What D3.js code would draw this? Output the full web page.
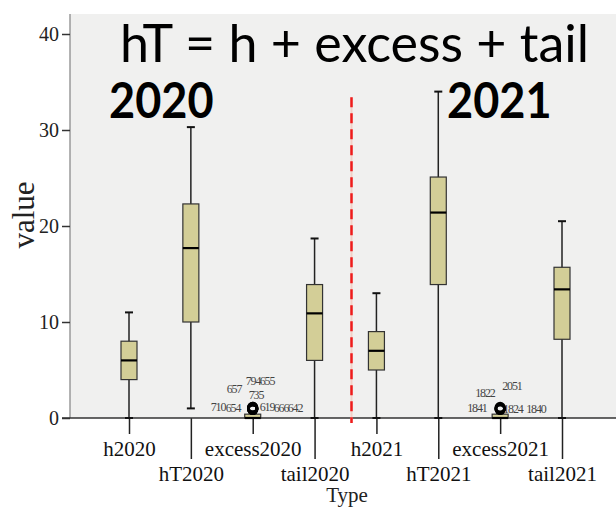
<!DOCTYPE html>
<html>
<head>
<meta charset="utf-8">
<script src="https://cdn.jsdelivr.net/npm/d3@7/dist/d3.min.js"></script>
<style>
  body { margin: 0; background: #fff; }
</style>
</head>
<body>
<div class="content"></div>
<script>
var categories = ['h2020', 'hT2020', 'excess2020', 'tail2020', 'h2021', 'hT2021', 'excess2021', 'tail2021'];
var whiskerLow  = [0, 1, 0, 0, 0, 0, 0, 0];
var q1          = [4, 10, 0, 6, 5, 13.9, 0, 8.2];
var median      = [6, 17.7, 0, 10.9, 7, 21.4, 0, 13.4];
var q3          = [8, 22.3, 0.4, 13.9, 9, 25.1, 0.4, 15.7];
var whiskerHigh = [11, 30.3, 0.4, 18.7, 13, 34, 0.4, 20.5];

// outlier cases (SPSS case numbers)
var outlierCategory = ['excess2020', 'excess2020', 'excess2020', 'excess2020', 'excess2020',
  'excess2020', 'excess2020', 'excess2020', 'excess2020',
  'excess2021', 'excess2021', 'excess2021', 'excess2021', 'excess2021'];
var outlierId    = ['657', '794', '655', '735', '710', '654', '619', '666', '642',
  '1822', '2051', '1841', '1824', '1840'];
var outlierValue = [1.1, 1.1, 1.0, 1.0, 0.9, 0.9, 1.0, 0.9, 0.9,
  1.0, 1.1, 0.9, 1.0, 0.9];

var yTicks = [0, 10, 20, 30, 40];

// label placement for the case numbers (layout only)
var labelOffset = [[-26, -14], [-7, -22], [7, -23], [-4, -9], [-42, 2], [-27, 3], [7, 3], [21, 3], [35, 3],
  [-25, -11], [2, -17], [-33, 3], [3, 5], [26, 4]];

var stats = categories.map(function (c, i) {
  return { name: c, low: whiskerLow[i], q1: q1[i], med: median[i], q3: q3[i], high: whiskerHigh[i] };
});
var outliers = outlierId.map(function (id, i) {
  return { name: outlierCategory[i], id: id, value: outlierValue[i], off: labelOffset[i] };
});

var svg = d3.select('.content')
  .append('svg')
  .attr('width', 616)
  .attr('height', 508);

var plotLeft = 70, plotTop = 14, plotRight = 616, plotBottom = 418;

var y = d3.scaleLinear().domain([0, 40]).range([plotBottom, 34]);
var x = d3.scalePoint().domain(categories).range([129, 562]);

// plot background
svg.append('rect')
  .attr('x', plotLeft)
  .attr('y', plotTop)
  .attr('width', plotRight - plotLeft)
  .attr('height', plotBottom - plotTop)
  .attr('fill', '#f0f0ef');

svg.append('line')
  .attr('x1', plotLeft).attr('x2', plotLeft)
  .attr('y1', plotTop).attr('y2', plotBottom)
  .attr('stroke', '#9a9a9a')
  .attr('stroke-width', 1.5);

// y axis
var axis_y = svg.append('g')
  .attr('class', 'axis axis--y')
  .attr('transform', 'translate(' + plotLeft + ',0)')
  .call(d3.axisLeft(y).tickValues(yTicks).tickSize(8).tickPadding(3));

axis_y.select('.domain').style('display', 'none');
axis_y.selectAll('line').attr('stroke', '#333').attr('stroke-width', 1.5);
axis_y.selectAll('text')
  .style('font-family', '"Liberation Serif", serif')
  .style('font-size', '20px')
  .style('fill', '#222');

// x axis
var axis_x = svg.append('g')
  .attr('class', 'axis axis--x')
  .attr('transform', 'translate(0,' + plotBottom + ')')
  .call(d3.axisBottom(x).tickSizeOuter(0));

axis_x.select('.domain').style('display', 'none');
axis_x.selectAll('.tick line')
  .attr('stroke', '#222')
  .attr('stroke-width', 1.5)
  .attr('y2', function (d, i) { return i % 2 ? 41 : 16; });
axis_x.selectAll('.tick text')
  .attr('dy', null)
  .attr('y', function (d, i) { return i % 2 ? 63 : 38; })
  .style('font-family', '"Liberation Serif", serif')
  .style('font-size', '21px')
  .style('fill', '#111');

svg.append('line')
  .attr('x1', 62).attr('x2', plotRight)
  .attr('y1', plotBottom).attr('y2', plotBottom)
  .attr('stroke', '#333')
  .attr('stroke-width', 1.5);

// axis titles
svg.append('text')
  .attr('transform', 'translate(34,215) rotate(-90)')
  .attr('text-anchor', 'middle')
  .style('font-family', '"Liberation Serif", serif')
  .style('font-size', '31px')
  .style('fill', '#222')
  .text('value');

svg.append('text')
  .attr('x', 347)
  .attr('y', 502)
  .attr('text-anchor', 'middle')
  .style('font-family', '"Liberation Serif", serif')
  .style('font-size', '21px')
  .style('fill', '#222')
  .text('Type');

// separator between years
var sepX = (x('tail2020') + x('h2021')) / 2 + 6;
svg.append('line')
  .attr('x1', sepX).attr('x2', sepX)
  .attr('y1', y(33.4)).attr('y2', plotBottom + 5)
  .attr('stroke', '#f3cfc6')
  .attr('stroke-width', 2);
svg.append('line')
  .attr('x1', sepX).attr('x2', sepX)
  .attr('y1', y(33.4)).attr('y2', plotBottom + 5)
  .attr('stroke', '#ee1c1c')
  .attr('stroke-width', 2.5)
  .attr('stroke-dasharray', '10,6');

// boxes
var boxW = 16, capW = 8;
var boxes = svg.append('g')
  .attr('class', 'boxes')
  .selectAll('.box')
  .data(stats)
  .enter()
  .append('g')
  .attr('class', 'box')
  .attr('transform', function (d) { return 'translate(' + x(d.name) + ',0)'; });

boxes.append('line')
  .attr('y1', function (d) { return y(d.low); })
  .attr('y2', function (d) { return y(d.high); })
  .attr('stroke', '#222')
  .attr('stroke-width', 1.5);

boxes.selectAll('.cap')
  .data(function (d) { return [d.low, d.high]; })
  .enter()
  .append('line')
  .attr('class', 'cap')
  .attr('x1', -capW / 2).attr('x2', capW / 2)
  .attr('y1', function (v) { return y(v); })
  .attr('y2', function (v) { return y(v); })
  .attr('stroke', '#111')
  .attr('stroke-width', 2);

boxes.append('rect')
  .attr('x', -boxW / 2)
  .attr('width', boxW)
  .attr('y', function (d) { return y(d.q3); })
  .attr('height', function (d) { return y(d.q1) - y(d.q3); })
  .attr('fill', '#d3ce97')
  .attr('stroke', '#333')
  .attr('stroke-width', 1.2);

boxes.append('line')
  .attr('x1', -boxW / 2).attr('x2', boxW / 2)
  .attr('y1', function (d) { return y(d.med); })
  .attr('y2', function (d) { return y(d.med); })
  .attr('stroke', '#000')
  .attr('stroke-width', 2.2);

// outliers
var outG = svg.append('g').attr('class', 'outliers');

outG.selectAll('text')
  .data(outliers)
  .enter()
  .append('text')
  .attr('x', function (d) { return x(d.name) + d.off[0]; })
  .attr('y', function (d) { return y(d.value) + d.off[1]; })
  .style('font-family', '"Liberation Serif", serif')
  .style('font-size', '12px')
  .style('letter-spacing', '-1.1px')
  .style('fill', '#444')
  .text(function (d) { return d.id; });

outG.selectAll('circle')
  .data(outliers)
  .enter()
  .append('circle')
  .attr('cx', function (d) { return x(d.name); })
  .attr('cy', function (d) { return y(d.value); })
  .attr('r', 4.3)
  .attr('fill', 'none')
  .attr('stroke', '#000')
  .attr('stroke-width', 2.6);

// annotations
svg.append('text')
  .attr('x', 120)
  .attr('y', 62)
  .style('font-family', 'Lato, sans-serif')
  .style('font-size', '52px')
  .style('fill', '#000')
  .text('hT = h + excess + tail');

svg.selectAll('.year')
  .data([['2020', 109], ['2021', 447]])
  .enter()
  .append('text')
  .attr('class', 'year')
  .attr('transform', function (d) { return 'translate(' + d[1] + ',118) scale(0.92,1)'; })
  .style('font-family', 'Lato, sans-serif')
  .style('font-size', '49px')
  .style('font-weight', 'bold')
  .style('fill', '#000')
  .text(function (d) { return d[0]; });
</script>
</body>
</html>
